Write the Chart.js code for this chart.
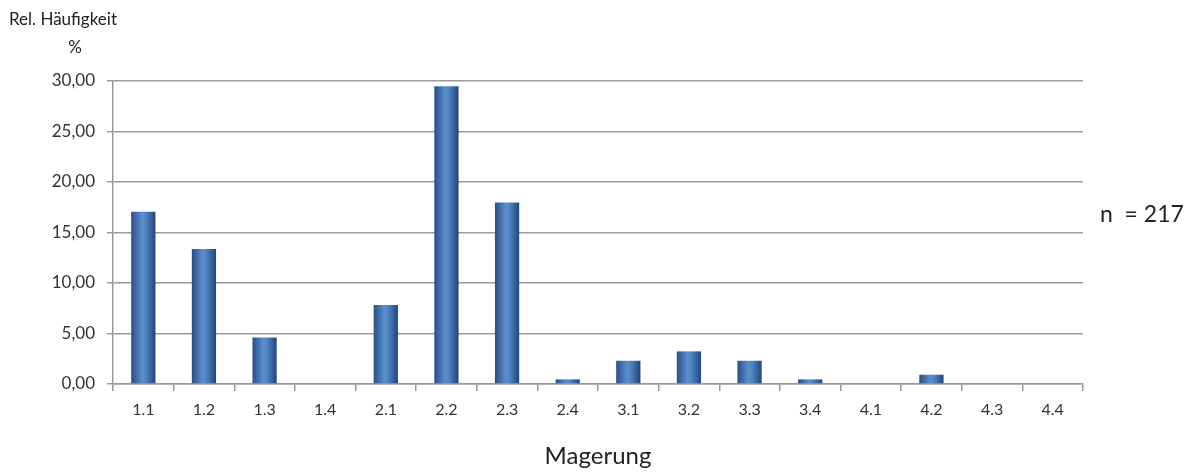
<!DOCTYPE html>
<html>
<head>
<meta charset="utf-8">
<script src="https://cdn.jsdelivr.net/npm/chart.js"></script>
<style>
  body { margin: 0; background: #fff; }
  #chart { display: block; }
</style>
</head>
<body>
<canvas id="chart" width="1197" height="474"></canvas>
<script>
// Magerung categories and relative frequency in %
const categories = ['1.1', '1.2', '1.3', '1.4', '2.1', '2.2', '2.3', '2.4',
                    '3.1', '3.2', '3.3', '3.4', '4.1', '4.2', '4.3', '4.4'];
const relFreq = [17.05, 13.36, 4.61, 0, 7.83, 29.49, 17.97, 0.46,
                 2.30, 3.23, 2.30, 0.46, 0, 0.92, 0, 0];
const yTicks = [0, 5, 10, 15, 20, 25, 30];
const sampleSize = 217;

const FONT = 'Lato, "Open Sans", sans-serif';

// gradient across each bar, dark at edges, lighter in the middle
function barFill(ctx) {
    const chart = ctx.chart;
    const x = chart.scales.x;
    if (!x || ctx.dataIndex === undefined) return '#4a7ebb';
    const cx = x.getPixelForValue(ctx.dataIndex);
    if (!isFinite(cx)) return '#4a7ebb';
    const half = 12;
    const g = chart.ctx.createLinearGradient(cx - half, 0, cx + half, 0);
    g.addColorStop(0, '#2a4f85');
    g.addColorStop(0.45, '#5b8fd0');
    g.addColorStop(0.6, '#4f83c4');
    g.addColorStop(1, '#23467a');
    return g;
}

// free text: axis captions and sample size
const labelsPlugin = {
    id: 'labels',
    afterDraw(chart) {
        const c = chart.ctx;
        c.save();
        c.fillStyle = '#222';
        c.textBaseline = 'middle';
        c.font = '17px ' + FONT;
        c.textAlign = 'left';
        c.fillText('Rel. Häufigkeit', 9, 20);
        c.textAlign = 'center';
        c.fillText('%', 75, 48);
        c.font = '23px ' + FONT;
        c.textAlign = 'left';
        c.fillText('n  = ' + sampleSize, 1100, 215);
        c.restore();
    }
};

new Chart(document.getElementById('chart'), {
    type: 'bar',
    data: {
        labels: categories,
        datasets: [{
            label: 'Rel. Häufigkeit',
            data: relFreq,
            backgroundColor: barFill,
            borderWidth: 0,
            barPercentage: 0.4,
            categoryPercentage: 1.0
        }]
    },
    options: {
        responsive: false,
        animation: false,
        layout: { padding: { top: 81, right: 114, left: 0, bottom: 0 } },
        plugins: {
            legend: { display: false },
            tooltip: { enabled: false }
        },
        scales: {
            x: {
                offset: true,
                grid: {
                    display: true,
                    drawOnChartArea: false,
                    offset: true,
                    color: '#9a9a9a',
                    lineWidth: 1.5,
                    tickLength: 7
                },
                border: { color: '#9a9a9a', width: 1.5 },
                ticks: {
                    color: '#333',
                    font: { family: FONT, size: 16 },
                    padding: 9,
                    maxRotation: 0
                },
                title: {
                    display: true,
                    text: 'Magerung',
                    color: '#222',
                    font: { family: FONT, size: 24 },
                    padding: { top: 14, bottom: 3 }
                }
            },
            y: {
                min: 0,
                max: 30,
                afterFit(scale) { scale.width = 113; },
                afterBuildTicks(scale) {
                    scale.ticks = yTicks.map(v => ({ value: v }));
                },
                grid: {
                    color: '#9a9a9a',
                    lineWidth: 1.5,
                    tickLength: 6
                },
                border: { color: '#9a9a9a', width: 1.5 },
                ticks: {
                    color: '#333',
                    font: { family: FONT, size: 17 },
                    padding: 12,
                    callback: v => v.toFixed(2).replace('.', ',')
                }
            }
        }
    },
    plugins: [labelsPlugin]
});
</script>
</body>
</html>
